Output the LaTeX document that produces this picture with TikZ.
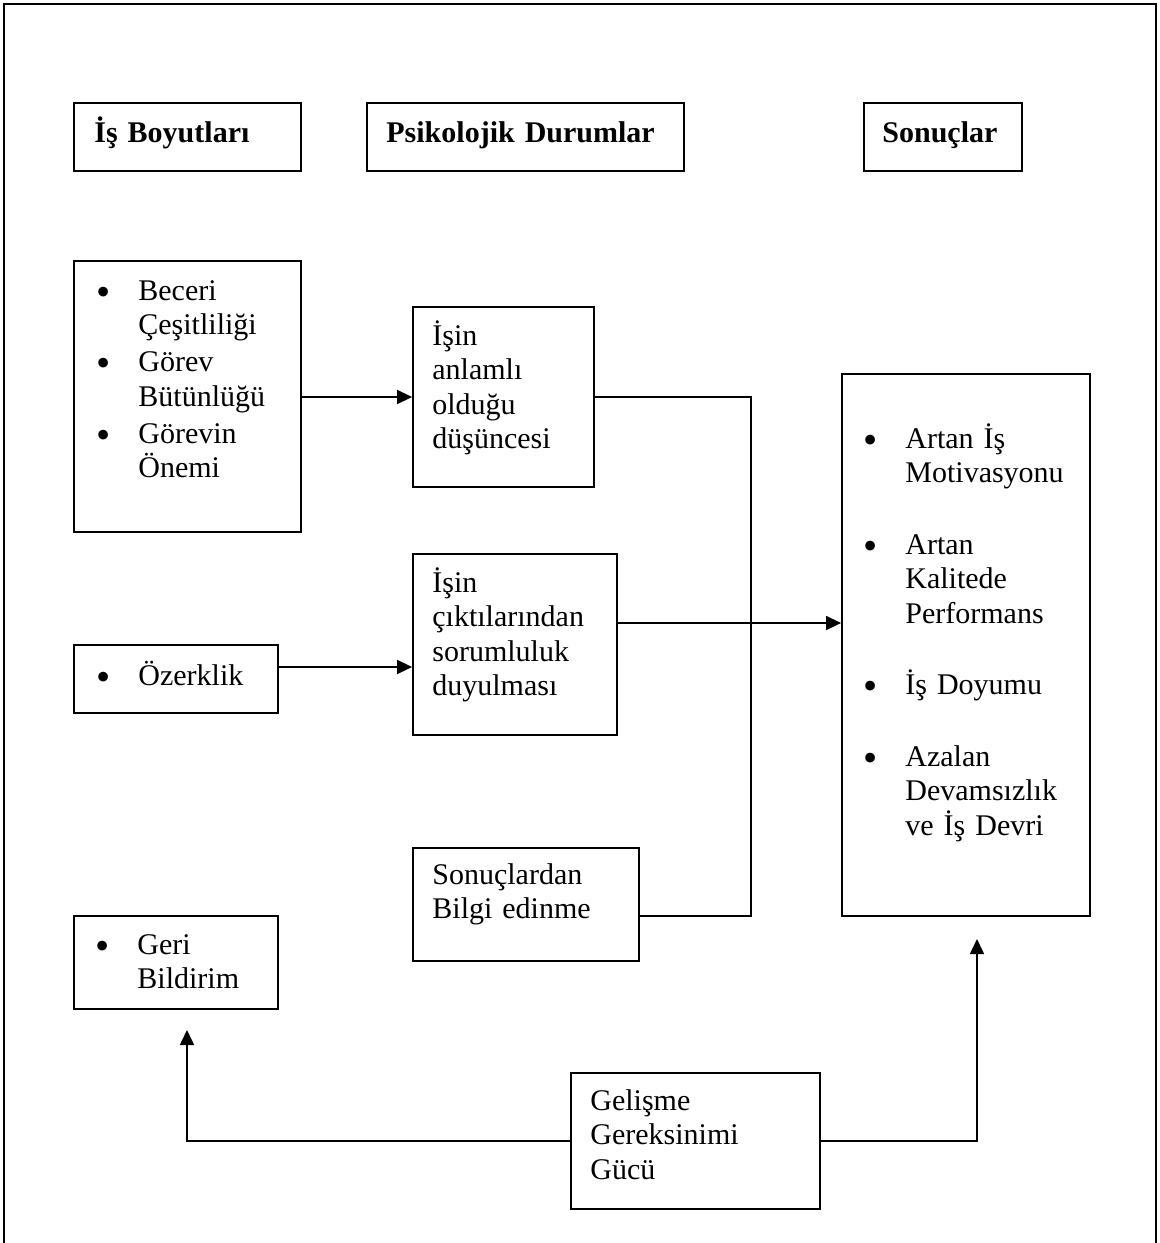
\documentclass[tikz,border=0pt]{standalone}
\usepackage{fontspec}
\setmainfont{Liberation Serif}
\usetikzlibrary{arrows.meta,fit}

% bullet marker and the matching indent for continuation lines
\newcommand{\bul}{\makebox[21pt][l]{\raisebox{-2.6pt}{\scalebox{1.35}{\textbullet}}}}
\newcommand{\bulgap}{\hspace*{21pt}}

% a framed panel given by its two corners (picture units)
\newcommand{\panel}[5]{%
  \path (#2,#3) coordinate (#1-nw) (#4,#5) coordinate (#1-se);
  \node[box, fit=(#1-nw)(#1-se)] (#1) {};}

\begin{document}
\begin{tikzpicture}[
    x=0.5pt, y=-0.5pt,
    box/.style={draw, line width=0.9pt, inner sep=0pt},
    txt/.style={anchor=base west, inner sep=0pt, text width=160pt, align=left,
                font=\fontsize{15pt}{17.25pt}\selectfont},
    head/.style={txt, font=\fontsize{15pt}{17.25pt}\selectfont\bfseries},
    conn/.style={line width=0.8pt},
    arr/.style={-{Triangle[length=7.5pt,width=7pt]}}
  ]
  \useasboundingbox (0,0) rectangle (1160,1243);

  % outer frame, open at the bottom
  \draw[line width=0.8pt] (4,1243) -- (4,4) -- (1156,4) -- (1156,1243);

  % column headings
  \panel{hdA}{74}{103}{301}{171}
  \panel{hdB}{367}{103}{684}{171}
  \panel{hdC}{864}{103}{1022}{171}
  \node[head] (tA) at (94,142) {İş Boyutları};
  \node[head] (tB) at (386,142) {Psikolojik Durumlar};
  \node[head] (tC) at (882,142) {Sonuçlar};

  % job dimensions
  \panel{dims}{74}{261}{301}{532}
  \node[txt] (tdims) at (96,300) {\bul Beceri\\ \bulgap Çeşitliliği\\[1.25pt]
    \bul Görev\\ \bulgap Bütünlüğü\\[1.25pt]
    \bul Görevin\\ \bulgap Önemi};
  \panel{oz}{74}{645}{278}{713}
  \node[txt] (toz) at (96,685) {\bul Özerklik};
  \panel{geri}{74}{916}{278}{1009}
  \node[txt] (tgeri) at (95,954) {\bul Geri\\ \bulgap Bildirim};

  % psychological states
  \panel{anl}{413}{307}{594}{487}
  \node[txt] (tanl) at (432,345) {İşin\\anlamlı\\olduğu\\düşüncesi};
  \panel{cik}{413}{554}{617}{735}
  \node[txt] (tcik) at (432,592) {İşin\\çıktılarından\\sorumluluk\\duyulması};
  \panel{son}{413}{848}{639}{961}
  \node[txt] (tson) at (432,884) {Sonuçlardan\\Bilgi edinme};

  % outcomes
  \panel{res}{842}{374}{1090}{916}
  \node[txt] (tres) at (863,448) {\bul Artan İş\\ \bulgap Motivasyonu\\[18.5pt]
    \bul Artan\\ \bulgap Kalitede\\ \bulgap Performans\\[18.5pt]
    \bul İş Doyumu\\[18.5pt]
    \bul Azalan\\ \bulgap Devamsızlık\\ \bulgap ve İş Devri};

  % growth need strength
  \panel{gel}{571}{1073}{820}{1209}
  \node[txt] (tgel) at (590,1110) {Gelişme\\Gereksinimi\\Gücü};

  % connectors
  \coordinate (busx) at (751,0);
  \coordinate (ybus) at (0,916);
  \coordinate (yrow2) at (0,623);
  \coordinate (yrow3) at (0,667);
  \coordinate (tipL) at (187,1030);
  \coordinate (tipR) at (977,939);

  \draw[conn,arr] (dims.east |- anl.west) -- (anl.west);
  \draw[conn] (anl.east) -| (busx |- ybus) -- (son.east |- ybus);
  \draw[conn,arr] (cik.east |- yrow2) -- (res.west |- yrow2);
  \draw[conn,arr] (oz.east |- yrow3) -- (cik.west |- yrow3);
  \draw[conn,arr] (gel.west) -| (tipL);
  \draw[conn,arr] (gel.east) -| (tipR);
\end{tikzpicture}
\end{document}
